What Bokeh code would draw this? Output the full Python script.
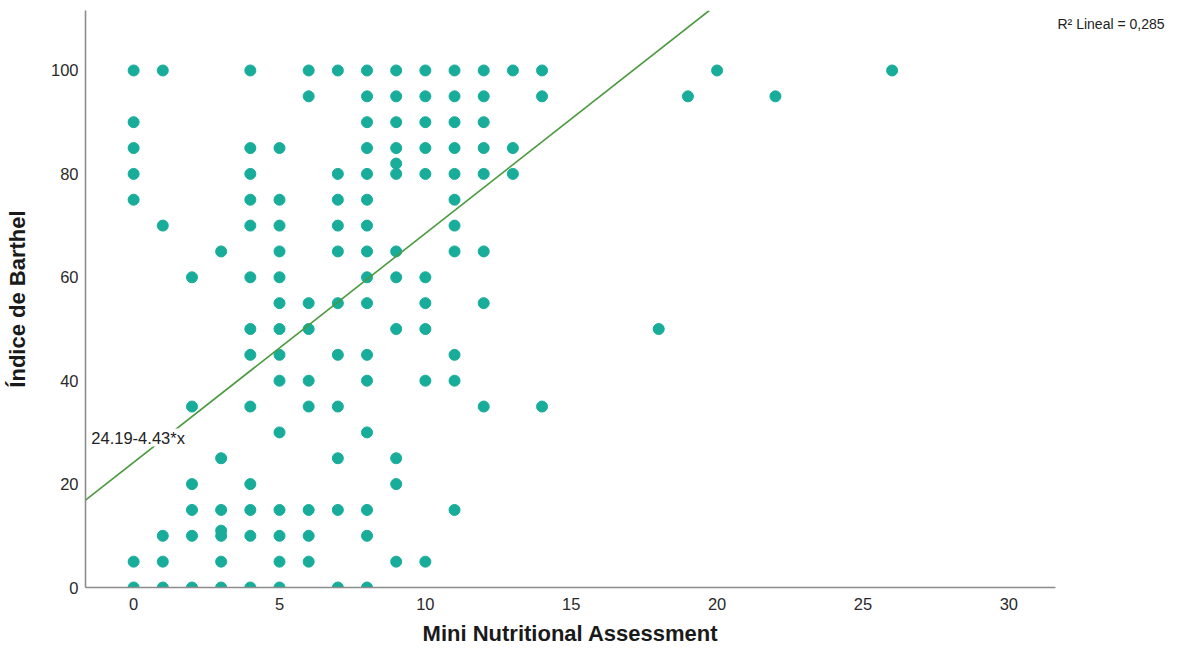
from bokeh.plotting import figure
from bokeh.models import Range1d, Label, FixedTicker, LinearAxis
from bokeh.embed import file_html
from bokeh.resources import INLINE

# Data (x = MNA score, y = Barthel index)
col_x = [0, 1, 2, 3, 4, 5, 6, 7, 8, 9, 10, 11, 12, 13, 14, 18, 19, 20, 22, 26]
col_y = [
    [100, 90, 85, 80, 75, 5, 0],
    [100, 70, 10, 5, 0],
    [60, 35, 20, 15, 10, 0],
    [65, 25, 15, 11, 10, 5, 0],
    [100, 85, 80, 75, 70, 60, 50, 45, 35, 20, 15, 10, 0],
    [85, 75, 70, 65, 60, 55, 50, 45, 40, 30, 15, 10, 5, 0],
    [100, 95, 55, 50, 40, 35, 15, 10, 5],
    [100, 80, 75, 70, 65, 55, 45, 35, 25, 15, 0],
    [100, 95, 90, 85, 80, 75, 70, 65, 60, 55, 45, 40, 30, 15, 10, 0],
    [100, 95, 90, 85, 82, 80, 65, 60, 50, 25, 20, 5],
    [100, 95, 90, 85, 80, 60, 55, 50, 40, 5],
    [100, 95, 90, 85, 80, 75, 70, 65, 45, 40, 15],
    [100, 95, 90, 85, 80, 65, 55, 35],
    [100, 85, 80],
    [100, 95, 35],
    [50],
    [95],
    [100],
    [95],
    [100],
]
mna = [x for x, ys in zip(col_x, col_y) for _ in ys]
barthel = [y for ys in col_y for y in ys]

intercept = 24.19
slope = 4.43
fit_label = "24.19-4.43*x"
r2_label = "R² Lineal = 0,285"

x_ticks = [0, 5, 10, 15, 20, 25, 30]
y_ticks = [0, 20, 40, 60, 80, 100]

XMIN, XMAX = -1.65, 31.6
YMIN, YMAX = 0, 111.6

FONT = "Liberation Sans"

p = figure(width=1177, height=652, output_backend="svg", toolbar_location=None,
           x_range=Range1d(XMIN, XMAX), y_range=Range1d(YMIN, YMAX),
           min_border_left=85, min_border_right=122, min_border_top=10, min_border_bottom=65)
p.background_fill_color = "white"
p.border_fill_color = "white"
p.outline_line_color = None
p.xgrid.visible = False
p.ygrid.visible = False

p.scatter(mna, barthel, size=11, fill_color="#17ad9a", line_color="#17ad9a")

# Fit line clipped to the y range
x_end = (YMAX - intercept) / slope
p.line([XMIN, x_end], [intercept + slope * XMIN, intercept + slope * x_end],
       line_color="#4a9a3e", line_width=1.6)

p.add_layout(Label(x=-1.45, y=29.0, text=fit_label, text_font=FONT,
                   text_font_size="16.5px", text_color="#222222", text_baseline="alphabetic",
                   background_fill_color="white", background_fill_alpha=1.0))

for ax in (p.xaxis[0], p.yaxis[0]):
    ax.axis_line_color = "#8c8c8c"
    ax.axis_line_width = 1.6
    ax.major_tick_line_color = None
    ax.minor_tick_line_color = None
    ax.major_tick_out = 0
    ax.major_tick_in = 0
    ax.major_label_text_font = FONT
    ax.major_label_text_font_size = "16.5px"
    ax.major_label_text_color = "#2a2a2a"
    ax.axis_label_text_font = FONT
    ax.axis_label_text_font_size = "22px"
    ax.axis_label_text_font_style = "bold"
    ax.axis_label_text_color = "#1a1a1a"

p.xaxis[0].ticker = FixedTicker(ticks=x_ticks)
p.yaxis[0].ticker = FixedTicker(ticks=y_ticks)
p.xaxis[0].axis_label = "Mini Nutritional Assessment"
p.yaxis[0].axis_label = "Índice de Barthel"
p.xaxis[0].major_label_standoff = 10
p.yaxis[0].major_label_standoff = 7
p.xaxis[0].axis_label_standoff = 8
p.yaxis[0].axis_label_standoff = 18

# R² annotation in the right margin, drawn as the single label of a bare right axis
r2_axis = LinearAxis(ticker=FixedTicker(ticks=[109]), major_label_overrides={109: r2_label},
                     axis_line_color=None, major_tick_line_color=None, minor_tick_line_color=None,
                     major_tick_out=0, major_tick_in=0, major_label_standoff=2,
                     major_label_text_font=FONT, major_label_text_font_size="14px",
                     major_label_text_color="#222222")
p.add_layout(r2_axis, "right")

open("out.html", "w").write(file_html(p, INLINE))
